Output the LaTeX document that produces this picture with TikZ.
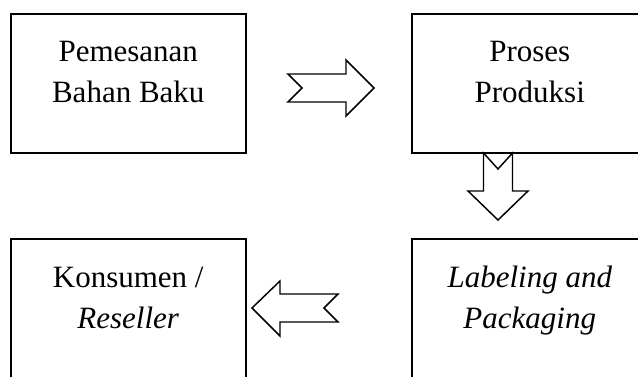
\documentclass[tikz,border=0pt]{standalone}
\usepackage{fontspec}
\setmainfont{Liberation Serif}
\usepackage{tikz}

\tikzset{
	kotak/.style={draw, line width=1.5pt, minimum width=176.6pt, minimum height=104.6pt, inner sep=0pt},
	teks/.style={anchor=base, align=center, inner sep=0pt, font=\fontsize{23.25pt}{30.75pt}\selectfont},
	panah/.style={draw, line width=1.1pt, line join=miter, fill=white}
}

\begin{document}
\begin{tikzpicture}[x=0.75pt,y=-0.75pt]
				\useasboundingbox (0,0) rectangle (638,376);
				\node[kotak] (pesan) at (128.25,83.25) {};
				\node[kotak] (produksi) at (529.75,83.25) {};
				\node[kotak] (kemas) at (529.75,308.75) {};
				\node[kotak] (konsumen) at (128.25,308.75) {};
				\node[teks] (tpesan) at (128.25,102) {Pemesanan\\Bahan Baku};
				\node[teks] (tproduksi) at (529.75,102) {Proses\\Produksi};
				\node[teks] (tkemas) at (529.75,328) {\itshape Labeling and\\\itshape Packaging};
				\node[teks] (tkonsumen) at (128.25,328) {Konsumen /\\\itshape Reseller};
				% panah blok
				\draw[panah] (374,88) -- (346,60) -- (346,74) -- (288,74) -- (302,88) -- (288,102) -- (346,102) -- (346,116) -- cycle;
				\draw[panah] (498,220) -- (468,191) -- (483.5,191) -- (483.5,153) -- (498,169) -- (512.5,153) -- (512.5,191) -- (528,191) -- cycle;
				\draw[panah] (252,308) -- (280,281) -- (280,294) -- (338,294) -- (324,308) -- (338,322) -- (280,322) -- (280,336) -- cycle;
\end{tikzpicture}
\end{document}
